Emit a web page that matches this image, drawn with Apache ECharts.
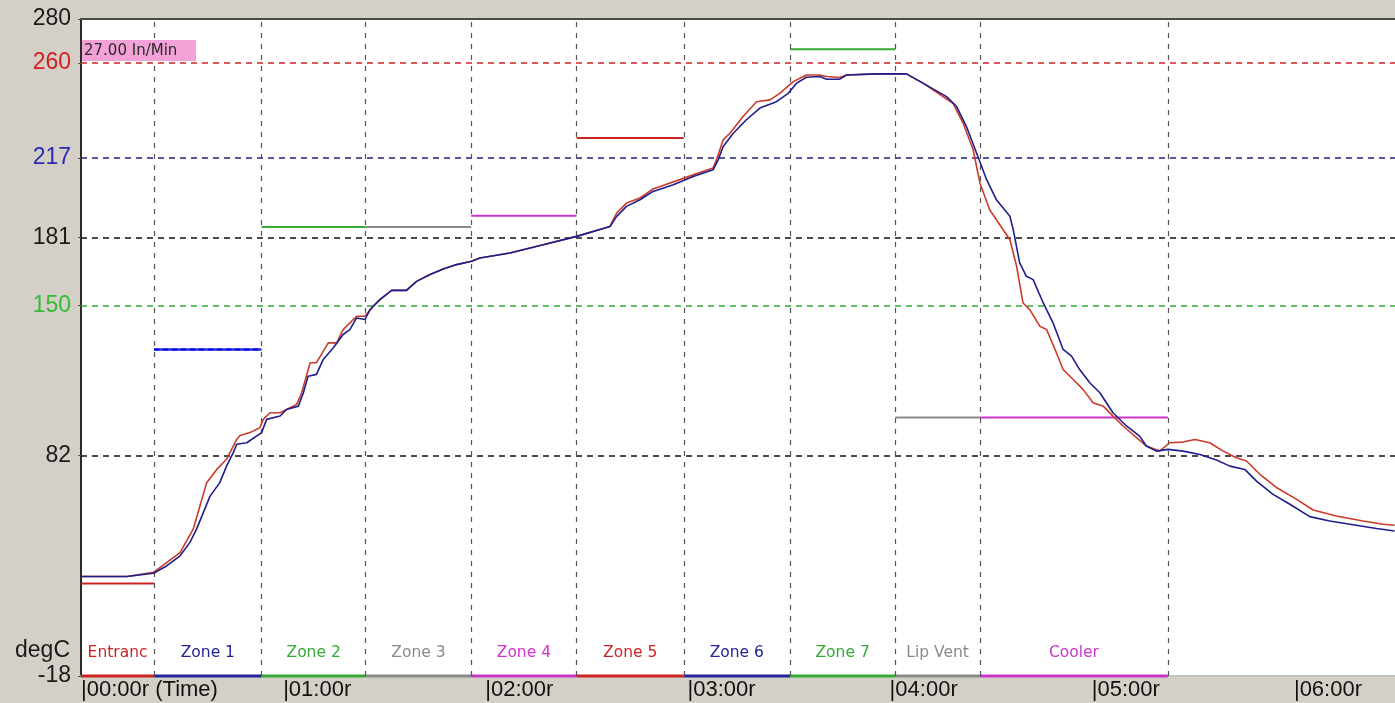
<!DOCTYPE html>
<html>
<head>
<meta charset="utf-8">
<script src="https://cdn.jsdelivr.net/npm/echarts@6/dist/echarts.min.js"></script>
<style>
html,body{margin:0;padding:0;background:#d4d0c8;}
#chart{width:1395px;height:703px;}
</style>
</head>
<body>
<div id="chart"></div>
<script>
// ---------- data ----------
const zoneNames = ['Entranc','Zone 1','Zone 2','Zone 3','Zone 4','Zone 5','Zone 6','Zone 7','Lip Vent','Cooler'];
const zoneBounds = [0, 21.7, 53.6, 84.5, 115.8, 147.1, 178.9, 210.4, 241.7, 266.8, 322.6]; // minutes
const zoneSetpoints = [24.0, 130.1, 185.7, 185.7, 190.8, 226.0, null, 266.3, 99.2, 99.2]; // degC
const refLineValues = [260, 217, 181, 150, 82];
const yLabelValues = [280, 260, 217, 181, 150, 82, -18];
const timeTickLabels = ['|00:00r (Time)','|01:00r','|02:00r','|03:00r','|04:00r','|05:00r','|06:00r'];
const speedLabel = '27.00 In/Min';
const unitLabel = 'degC';

// profile: [minutes, degC]
const profileBlue = [
 [0,27.1],[13.6,27.1],[21.5,28.6],[25.4,31.9],[29.4,36.5],[32.3,42.5],[34.3,48.6],[36.3,56.1],[38.3,63.6],
 [41.2,69.7],[43.2,77.2],[45.2,83.3],[46.2,87.1],[49.2,87.8],[53.6,92.4],[55.1,98.4],[59.1,99.9],[61.0,102.9],
 [64.5,104.4],[66.0,110.5],[67.4,118.0],[69.9,118.8],[71.9,125.6],[74.9,130.9],[77.8,136.9],[79.8,139.1],
 [81.8,144.4],[84.3,143.7],[85.8,148.2],[88.7,152.7],[92.2,156.9],[96.6,156.9],[99.6,161.0],[103.6,164.1],
 [107.5,166.6],[111.5,168.6],[115.9,170.1],[118.4,171.6],[127.3,173.9],[137.2,177.6],[147.1,181.4],
 [157.0,185.9],[159.0,190.5],[161.9,195.0],[165.9,198.0],[169.8,201.8],[175.8,204.8],[181.7,208.6],
 [187.6,211.6],[189.1,216.1],[190.6,222.2],[193.6,228.2],[197.5,234.3],[201.5,239.6],[206.4,242.5],
 [209.9,246.3],[212.4,250.9],[215.3,253.6],[219.3,253.9],[221.3,252.7],[225.2,252.7],[227.2,254.6],
 [236.1,255.1],[245.0,255.1],[249.9,250.9],[256.9,244.8],[259.9,240.3],[262.8,231.2],[265.8,219.2],
 [268.8,207.1],[271.7,198.0],[275.7,190.5],[276.7,184.4],[278.6,169.4],[280.6,163.3],[282.6,161.8],
 [285.6,151.2],[288.5,142.2],[291.5,130.1],[294.0,127.1],[296.4,121.0],[299.4,115.0],[302.4,110.5],
 [306.3,101.4],[310.3,95.4],[314.2,90.8],[316.2,86.3],[319.2,84.0],[322.6,84.8],[327.1,84.0],[332.1,82.5],
 [337.0,80.0],[341.0,77.2],[345.4,75.7],[348.9,70.4],[353.8,64.4],[358.8,59.9],[364.7,54.3],[370.6,52.3],
 [378.5,50.4],[384.5,48.9],[389.9,47.8]
];
const profileRed = [
 [0,27.1],[13.6,27.1],[21.5,29.0],[29.4,38.0],[33.3,48.6],[35.3,59.1],[37.3,69.7],[40.3,75.7],[43.2,80.3],
 [46.2,89.3],[47.2,91.1],[50.1,92.4],[53.1,94.6],[54.1,98.4],[56.1,101.4],[59.1,101.4],[64.0,105.2],
 [65.5,110.5],[68.0,124.1],[69.9,124.1],[73.4,133.1],[75.9,133.1],[77.8,139.1],[81.8,145.2],[84.3,145.2],
 [86.7,149.7],[88.7,152.7],[92.2,156.9],[96.6,156.9],[99.6,161.0],[103.6,164.1],[107.5,166.6],[111.5,168.6],
 [115.9,170.1],[118.4,171.6],[127.3,173.9],[137.2,177.6],[147.1,181.4],[157.0,185.9],[159.0,192.0],
 [161.9,196.5],[165.9,198.8],[169.8,202.9],[181.7,209.3],[187.6,212.4],[188.6,216.1],[190.6,225.2],
 [192.6,228.2],[196.5,235.8],[200.5,242.5],[204.5,243.3],[207.4,246.3],[211.4,251.6],[215.3,254.6],
 [219.3,254.6],[221.3,253.9],[225.2,253.5],[227.2,254.6],[236.1,255.1],[245.0,255.1],[249.9,250.9],
 [258.8,241.8],[261.8,232.8],[264.8,220.7],[266.8,205.6],[269.7,193.5],[273.7,184.4],[275.7,179.9],
 [277.7,167.8],[279.6,151.2],[281.6,148.2],[284.6,140.6],[286.6,139.1],[289.5,128.6],[291.5,121.0],
 [294.5,116.5],[297.4,112.0],[300.4,105.9],[303.4,104.4],[306.3,99.9],[309.3,95.4],[316.2,86.3],
 [320.2,84.0],[323.1,87.8],[327.1,88.1],[330.6,89.3],[335.0,87.8],[339.0,84.0],[342.9,81.0],[345.9,79.5],
 [349.9,73.5],[354.8,67.5],[360.7,62.2],[365.7,57.3],[372.6,54.6],[380.5,52.3],[386.5,50.8],[389.9,50.4]
];

// ---------- styles ----------
const zoneColors = ['#cc2424','#24249c','#35aa35','#8a8a8a','#cc35cc','#cc2424','#24249c','#35aa35','#8a8a8a','#cc35cc'];
const refLineColors = {260:'#d42020', 217:'#20207a', 181:'#111111', 150:'#33aa33', 82:'#111111'};
const yLabelRich = {280:'k', 260:'r', 217:'b', 181:'k', 150:'g', 82:'k', '-18':'k'};

const series = [];

// marker host (grid lines, zone labels)
series.push({
  type:'line', name:'markers', data:[], silent:true, z:1,
  markLine:{
    silent:true, symbol:['none','none'], label:{show:false}, animation:false,
    data: refLineValues.map(v => ({yAxis:v, lineStyle:{color:refLineColors[v], type:[6,5], width:1.6}}))
      .concat(zoneBounds.slice(1).map(t => ({xAxis:t, lineStyle:{color:'#555', type:[5,6], width:1.2}})))
  },
  markArea:{
    silent:true, animation:false,
    itemStyle:{color:'rgba(0,0,0,0)'},
    data: zoneNames.map((n,i) => [
      {xAxis:zoneBounds[i], name:n, label:{show:true, position:'insideBottom', distance:15,
        color:zoneColors[i], fontFamily:'DejaVu Sans', fontSize:15.5}},
      {xAxis:zoneBounds[i+1]}
    ])
  }
});

// zone colour bars along the bottom
zoneNames.forEach((n,i) => {
  series.push({
    type:'line', name:'bar-'+n, clip:false, symbol:'none', silent:true, z:4,
    data:[[zoneBounds[i],-18],[zoneBounds[i+1],-18]],
    lineStyle:{color:zoneColors[i], width:3}
  });
});

// setpoint segments
zoneNames.forEach((n,i) => {
  const v = zoneSetpoints[i];
  if (v === null) return;
  const seg = [[zoneBounds[i],v],[zoneBounds[i+1],v]];
  if (i === 1) {
    series.push({type:'line', name:'sp-'+n, symbol:'none', silent:true, z:3, data:seg,
      lineStyle:{color:'#2a2acc', width:2.5}});
    series.push({type:'line', name:'sp2-'+n, symbol:'none', silent:true, z:3, data:seg,
      lineStyle:{color:'#0000ff', width:2, type:[5,4], dashOffset:0}});
  } else {
    series.push({type:'line', name:'sp-'+n, symbol:'none', silent:true, z:3, data:seg,
      lineStyle:{color:zoneColors[i], width:2}});
  }
});

// profiles
series.push({type:'line', name:'TC2', symbol:'none', z:5, data:profileRed,
  lineStyle:{color:'#cc3a2a', width:1.6}});
series.push({type:'line', name:'TC1', symbol:'none', z:6, data:profileBlue,
  lineStyle:{color:'#1e1e8e', width:1.6}});

const chart = echarts.init(document.getElementById('chart'), null, {renderer:'canvas'});
chart.setOption({
  animation:false,
  backgroundColor:'#d4d0c8',
  grid:{left:81, right:0, top:19, bottom:27, show:true, backgroundColor:'#ffffff', borderWidth:0},
  xAxis:[{
    type:'value', min:0, max:390, interval:60, position:'bottom',
    axisLine:{show:true, onZero:false, lineStyle:{color:'#c4c4c4', width:2}},
    axisTick:{show:false}, splitLine:{show:false},
    axisLabel:{
      show:true, align:'left', margin:3, color:'#111',
      fontFamily:'Liberation Sans', fontSize:22, showMaxLabel:false,
      formatter: v => (v % 60 === 0 && timeTickLabels[v/60] !== undefined) ? timeTickLabels[v/60] : ''
    }
  },{
    type:'value', min:0, max:390, position:'top',
    axisLine:{show:true, onZero:false, lineStyle:{color:'#4a4a4a', width:2}},
    axisTick:{show:false}, axisLabel:{show:false}, splitLine:{show:false}
  }],
  yAxis:{
    type:'value', min:-18, max:280,
    axisLine:{show:true, onZero:false, lineStyle:{color:'#2a2a2a', width:2}},
    axisTick:{show:true, length:3, customValues:yLabelValues, lineStyle:{color:'#555'}},
    splitLine:{show:false},
    axisLabel:{
      show:true, customValues:yLabelValues, margin:10,
      formatter: v => '{' + yLabelRich[String(v)] + '|' + v + '}',
      rich:{
        k:{color:'#1a1a1a', fontFamily:'Liberation Sans', fontSize:23},
        r:{color:'#d42020', fontFamily:'Liberation Sans', fontSize:23},
        b:{color:'#2a2ab0', fontFamily:'Liberation Sans', fontSize:23},
        g:{color:'#33bb33', fontFamily:'Liberation Sans', fontSize:23}
      }
    }
  },
  graphic:[
    {type:'text', z:100, style:{x:70, y:651, text:unitLabel, align:'right', verticalAlign:'middle',
      font:'23px "Liberation Sans"', fill:'#1a1a1a'}},
    {type:'rect', z:100, shape:{x:82, y:40, width:114, height:21}, style:{fill:'#f2a2d6'}},
    {type:'text', z:101, style:{x:84, y:51, text:speedLabel, align:'left', verticalAlign:'middle',
      font:'15px "DejaVu Sans"', fill:'#2a2a2a'}}
  ],
  series: series
});
</script>
</body>
</html>
